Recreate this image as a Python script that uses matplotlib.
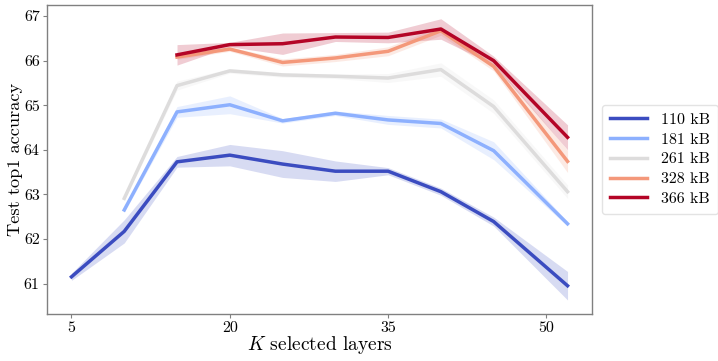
import numpy as np
import matplotlib
matplotlib.use("Agg")
import matplotlib.pyplot as plt
from matplotlib import cm

plt.rcParams['font.family'] = ['cmr10', 'DejaVu Serif']
plt.rcParams['mathtext.fontset'] = 'cm'
plt.rcParams['axes.formatter.use_mathtext'] = False

labels = ["110 kB", "181 kB", "261 kB", "328 kB", "366 kB"]

k_110 = [5, 10, 15, 20, 25, 30, 35, 40, 45, 52]
acc_110 = [61.15, 62.17, 63.73, 63.88, 63.68, 63.52, 63.52, 63.06, 62.39, 60.95]
err_110 = [0.08, 0.26, 0.12, 0.24, 0.30, 0.23, 0.08, 0.08, 0.10, 0.32]

k_181 = [10, 15, 20, 25, 30, 35, 40, 45, 52]
acc_181 = [62.65, 64.85, 65.01, 64.65, 64.82, 64.67, 64.59, 63.98, 62.34]
err_181 = [0.05, 0.12, 0.20, 0.05, 0.05, 0.10, 0.10, 0.20, 0.05]

k_261 = [10, 15, 20, 25, 30, 35, 40, 45, 52]
acc_261 = [62.91, 65.44, 65.77, 65.68, 65.65, 65.61, 65.80, 64.97, 63.06]
err_261 = [0.05, 0.10, 0.05, 0.05, 0.05, 0.10, 0.15, 0.15, 0.15]

k_328 = [15, 20, 25, 30, 35, 40, 45, 52]
acc_328 = [66.08, 66.26, 65.96, 66.06, 66.21, 66.67, 65.87, 63.74]
err_328 = [0.05, 0.05, 0.08, 0.08, 0.10, 0.10, 0.10, 0.25]

k_366 = [15, 20, 25, 30, 35, 40, 45, 52]
acc_366 = [66.13, 66.36, 66.38, 66.53, 66.52, 66.71, 66.00, 64.28]
err_366 = [0.23, 0.05, 0.24, 0.10, 0.12, 0.23, 0.10, 0.28]

series = [
    (k_110, acc_110, err_110),
    (k_181, acc_181, err_181),
    (k_261, acc_261, err_261),
    (k_328, acc_328, err_328),
    (k_366, acc_366, err_366),
]
xticks = [5, 20, 35, 50]
yticks = [61, 62, 63, 64, 65, 66, 67]

colors = cm.coolwarm(np.linspace(0, 1, len(labels)))

fig = plt.figure(figsize=(7.18, 3.61), dpi=100)
ax = fig.add_axes([0.065, 0.130, 0.760, 0.857])

for (k, a, e), c, lab in zip(series, colors, labels):
    k = np.array(k); a = np.array(a); e = np.array(e)
    ax.fill_between(k, a - e, a + e, color=c, alpha=0.2, linewidth=0)
    ax.plot(k, a, color=c, lw=2.5, label=lab)

ax.set_xticks(xticks)
ax.set_xticklabels([str(t) for t in xticks])
ax.set_yticks(yticks)
ax.set_yticklabels([str(t) for t in yticks])
ax.tick_params(labelsize=11.5, length=3, color='#808080', width=0.8, pad=2)
for s in ax.spines.values():
    s.set_color('#808080')
    s.set_linewidth(1.0)

ax.set_xlabel(r"$K$ selected layers", fontsize=14)
ax.set_ylabel("Test top1 accuracy", fontsize=13.2)
ax.xaxis.set_label_coords(0.5, -0.064)
ax.yaxis.set_label_coords(-0.0434, 0.5)

leg = ax.legend(loc='center left', bbox_to_anchor=(1.0176, 0.5), fontsize=11.5,
                frameon=True, fancybox=True, handlelength=2.3, borderpad=0.5,
                labelspacing=0.35, handletextpad=0.9, borderaxespad=0)
leg.get_frame().set_edgecolor('#dddddd')

fig.savefig("out.png", dpi=100)
